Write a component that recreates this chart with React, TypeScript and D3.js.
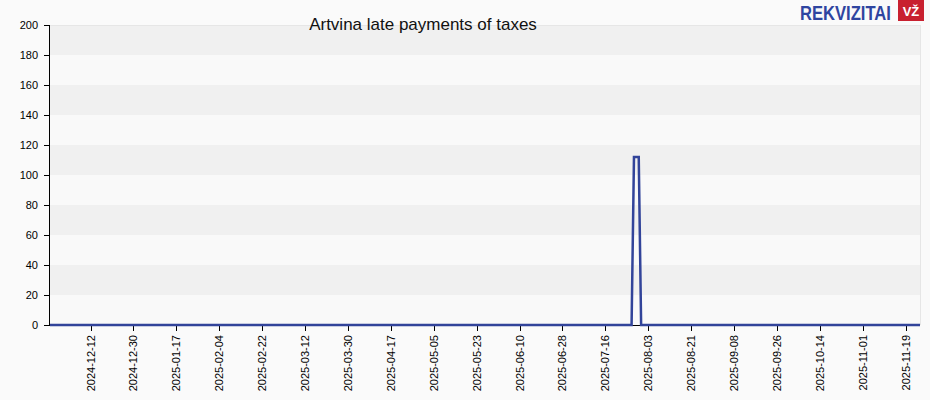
import React from "react";
import * as d3 from "d3";

const changeDates = ["2024-11-25", "2025-07-27", "2025-07-28", "2025-07-30", "2025-07-31", "2025-11-25"];
const changeValues = [0, 0, 112, 112, 0, 0];
const xTickLabels = [
  "2024-12-12", "2024-12-30", "2025-01-17", "2025-02-04", "2025-02-22", "2025-03-12",
  "2025-03-30", "2025-04-17", "2025-05-05", "2025-05-23", "2025-06-10", "2025-06-28",
  "2025-07-16", "2025-08-03", "2025-08-21", "2025-09-08", "2025-09-26", "2025-10-14",
  "2025-11-01", "2025-11-19",
];
const yTicks = [0, 20, 40, 60, 80, 100, 120, 140, 160, 180, 200];
const title = "Artvina late payments of taxes";

const W = 930, H = 400;
const L = 50, R = 920, T = 25, B = 325;
const parse = d3.utcParse("%Y-%m-%d");

export default function App() {
  const x = d3.scaleUtc().domain([parse("2024-11-25")!, parse("2025-11-25")!]).range([L, R]);
  const y = d3.scaleLinear().domain([0, 200]).range([B, T]);
  const data = changeDates.map((d, i) => ({ date: parse(d)!, v: changeValues[i] }));
  const line = d3.line<{ date: Date; v: number }>().x((d) => x(d.date)).y((d) => y(d.v));
  const bands = yTicks.slice(0, -1).map((t, i) => ({ lo: t, hi: yTicks[i + 1], gray: i % 2 === 1 }));
  const font = "Arial, 'Liberation Sans', sans-serif";
  return (
    <svg width={W} height={H} style={{ position: "absolute", left: 0, top: 0, background: "#fafafa" }} fontFamily={font}>
      <rect x={0} y={0} width={W} height={H} fill="#fafafa" />
      {bands.map((b, i) => (
        <rect key={i} x={L} y={y(b.hi)} width={R - L} height={y(b.lo) - y(b.hi)} fill={b.gray ? "#f0f0f0" : "#f9f9f9"} />
      ))}
      <line x1={L} x2={R} y1={T + 0.5} y2={T + 0.5} stroke="#e6e6e6" />
      <line x1={R + 0.5} x2={R + 0.5} y1={T} y2={B} stroke="#e6e6e6" />
      <text x={423} y={30} textAnchor="middle" fontSize={17} fill="#111">{title}</text>
      {/* logo */}
      <text transform="translate(800,19.5) scale(0.79,1)" fontSize={21} fontWeight="bold" fill="#2f45a0" fontFamily="'Liberation Sans', Arial, sans-serif">REKVIZITAI</text>
      <rect x={898} y={0} width={26} height={21} fill="#c8202f" />
      <text x={911} y={16} textAnchor="middle" fontSize={13} fontWeight="bold" fill="#fff">VŽ</text>
      {/* y axis */}
      <line x1={L - 0.5} x2={L - 0.5} y1={T} y2={B} stroke="#000" />
      {yTicks.map((t) => (
        <g key={t}>
          <line x1={L - 6} x2={L} y1={y(t) + 0.5} y2={y(t) + 0.5} stroke="#000" />
          <text x={L - 12} y={y(t) + 4} textAnchor="end" fontSize={11} fill="#000">{t}</text>
        </g>
      ))}
      {/* x axis */}
      <line x1={L} x2={R} y1={B + 0.5} y2={B + 0.5} stroke="#000" />
      {xTickLabels.map((s) => {
        const xx = Math.round(x(parse(s)!)) + 0.5;
        return (
          <g key={s}>
            <line x1={xx} x2={xx} y1={B} y2={B + 6} stroke="#000" />
            <text transform={`translate(${xx + 3.5},${B + 10}) rotate(-90)`} textAnchor="end" fontSize={11} fill="#000">{s}</text>
          </g>
        );
      })}
      <path d={line(data) || ""} fill="none" stroke="#32449a" strokeWidth={2.5} strokeLinejoin="miter" />
    </svg>
  );
}
